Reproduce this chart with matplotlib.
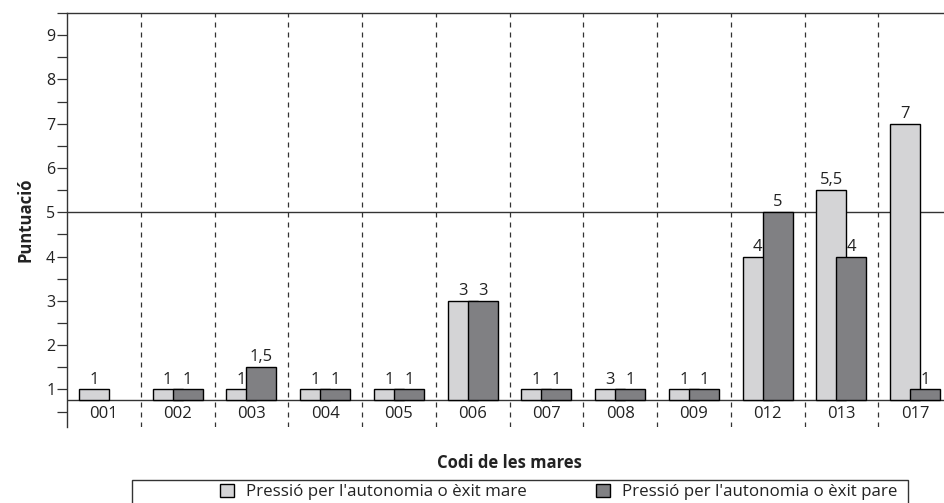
import matplotlib
matplotlib.use("Agg")
import matplotlib.pyplot as plt
from matplotlib.patches import Rectangle
from matplotlib.ticker import MultipleLocator

plt.rcParams["font.family"] = ["Open Sans", "DejaVu Sans"]

# data
codes = ["001", "002", "003", "004", "005", "006", "007", "008", "009", "012", "013", "017"]
mare = [1, 1, 1, 1, 1, 3, 1, 1, 1, 4, 5.5, 7]
pare = [None, 1, 1.5, 1, 1, 3, 1, 1, 1, 5, 4, 1]
mare_labels = ["1", "1", "1", "1", "1", "3", "1", "3", "1", "4", "5,5", "7"]
pare_labels = ["", "1", "1,5", "1", "1", "3", "1", "1", "1", "5", "4", "1"]

base = 0.75
col_mare = "#d4d4d6"
col_pare = "#808083"
txt = "#222222"

fig = plt.figure(figsize=(9.44, 5.03), dpi=100)
ax = fig.add_axes([67 / 944, 1 - 427 / 503, 885 / 944, 414 / 503])

w = 0.407
off = 0.135
for i, code in enumerate(codes):
    if mare[i] is not None:
        ax.bar(i - off, mare[i] - base, bottom=base, width=w, color=col_mare,
               edgecolor="black", linewidth=1, zorder=3)
        ax.text(i - off, mare[i] + 0.04, mare_labels[i], ha="center", va="bottom",
                fontsize=12, color=txt, zorder=5)
    if pare[i] is not None:
        ax.bar(i + off, pare[i] - base, bottom=base, width=w, color=col_pare,
               edgecolor="black", linewidth=1, zorder=4)
        ax.text(i + off, pare[i] + 0.04, pare_labels[i], ha="center", va="bottom",
                fontsize=12, color=txt, zorder=5)
    ax.text(i, 0.44, code, ha="center", va="center", fontsize=12, color=txt)

# separators between codes
for i in range(1, len(codes)):
    ax.axvline(i - 0.5, color="#333333", linewidth=0.9, linestyle=(0, (4, 4)), zorder=1)

ax.axhline(base, color="#333333", linewidth=1, zorder=2)
ax.axhline(5, color="#333333", linewidth=1, zorder=2)

ax.set_xlim(-0.5, len(codes) - 0.5)
ax.set_ylim(0.15, 9.5)
ax.set_xticks([])
ax.yaxis.set_major_locator(MultipleLocator(1))
ax.yaxis.set_minor_locator(MultipleLocator(0.5))
ax.set_yticks(range(1, 10))
ax.tick_params(axis="y", which="both", length=7.5, width=0.9, color="#333333",
               labelsize=11.5, labelcolor=txt, pad=1)

ax.spines["right"].set_visible(False)
ax.spines["bottom"].set_visible(False)
for s in ["left", "top"]:
    ax.spines[s].set_color("#333333")
    ax.spines[s].set_linewidth(1)

ax.set_ylabel("Puntuació", fontsize=12, fontweight="bold", color=txt, labelpad=8)
fig.text(509 / 944, 1 - 463 / 503, "Codi de les mares", ha="center", va="center",
         fontsize=12, fontweight="bold", color=txt)

# legend
fig.patches.append(Rectangle((132 / 944, -0.02), (908 - 132) / 944, 0.02 + 23 / 503,
                             transform=fig.transFigure, facecolor="white",
                             edgecolor="#333333", linewidth=1))
h1 = Rectangle((0, 0), 1, 1, facecolor=col_mare, edgecolor="black", linewidth=1)
h2 = Rectangle((0, 0), 1, 1, facecolor=col_pare, edgecolor="black", linewidth=1)
fig.legend([h1, h2],
           ["Pressió per l'autonomia o èxit mare", "Pressió per l'autonomia o èxit pare"],
           loc="center left", bbox_to_anchor=(212 / 944, 1 - 492 / 503), ncol=2,
           frameon=False, fontsize=12.2, handlelength=0.8, handleheight=0.8,
           handletextpad=0.7, columnspacing=4.1, borderpad=0, labelcolor=txt)

fig.savefig("out.png", dpi=100)
